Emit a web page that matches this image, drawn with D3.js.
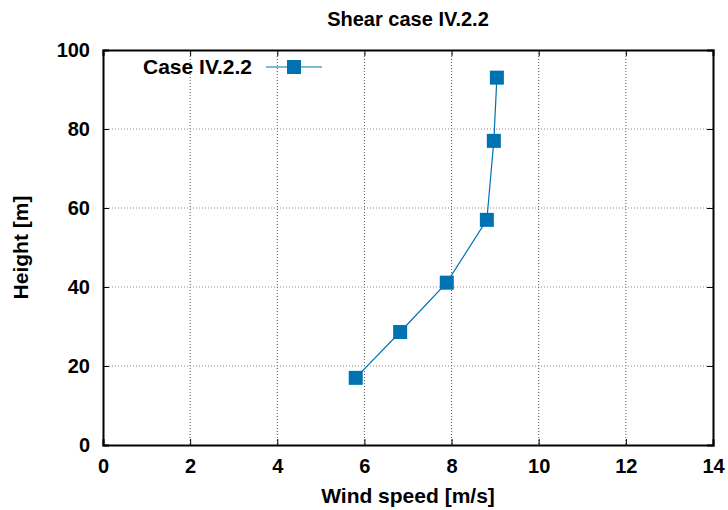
<!DOCTYPE html>
<html>
<head>
<meta charset="utf-8">
<script src="https://cdn.jsdelivr.net/npm/d3@7"></script>
<style>
  body { margin: 0; background: #fff; }
  text { font-family: "Liberation Sans", Arial, sans-serif; font-weight: bold; }
</style>
</head>
<body>
<div id="chart"></div>
<script>
// wind speed profile
const windSpeed = [5.8, 6.82, 7.89, 8.81, 8.97, 9.04];
const heights = [17.0, 28.6, 41.1, 57.0, 77.0, 93.0];
const seriesName = "Case IV.2.2";
const xTicks = [0, 2, 4, 6, 8, 10, 12, 14];
const yTicks = [0, 20, 40, 60, 80, 100];

const margin = { top: 50, right: 15, bottom: 65, left: 103 },
    width = 728 - margin.left - margin.right,
    height = 510 - margin.top - margin.bottom;

const color = "#0072b2";

const svg = d3.select("#chart")
    .append("svg")
    .attr("width", 728)
    .attr("height", 510);

const g = svg.append("g")
    .attr("transform", `translate(${margin.left},${margin.top})`);

const x = d3.scaleLinear().domain([0, 14]).range([0, width]);
const y = d3.scaleLinear().domain([0, 100]).range([height, 0]);

// grid
g.selectAll(".gx")
    .data(xTicks.slice(1, -1))
    .join("line")
    .attr("x1", d => x(d)).attr("x2", d => x(d))
    .attr("y1", 0).attr("y2", height)
    .attr("stroke", "#555")
    .attr("stroke-width", 1)
    .attr("stroke-dasharray", "1,2");
g.selectAll(".gy")
    .data(yTicks.slice(1, -1))
    .join("line")
    .attr("x1", 0).attr("x2", width)
    .attr("y1", d => y(d)).attr("y2", d => y(d))
    .attr("stroke", "#888")
    .attr("stroke-width", 1)
    .attr("stroke-dasharray", "1,2");

// axes (ticks pointing inward, mirrored)
const xAxis = g.append("g")
    .attr("transform", `translate(0,${height})`)
    .call(d3.axisBottom(x).tickValues(xTicks).tickSize(-6).tickPadding(14));
const xTop = g.append("g")
    .call(d3.axisTop(x).tickValues(xTicks).tickSize(-6).tickFormat(""));
const yAxis = g.append("g")
    .call(d3.axisLeft(y).tickValues(yTicks).tickSize(-6).tickPadding(13));
const yRight = g.append("g")
    .attr("transform", `translate(${width},0)`)
    .call(d3.axisRight(y).tickValues(yTicks).tickSize(-6).tickFormat(""));

[xAxis, xTop, yAxis, yRight].forEach(a => {
    a.select(".domain").attr("stroke", "#000").attr("stroke-width", 2);
    a.selectAll(".tick line").attr("stroke", "#000").attr("stroke-width", 1);
    a.selectAll("text")
        .attr("fill", "#000")
        .style("font-size", "20px")
        .style("font-family", "'Liberation Sans', Arial, sans-serif")
        .style("font-weight", "bold");
});

// line + markers
const pts = windSpeed.map((w, i) => ({ w: w, h: heights[i] }));
g.append("path")
    .datum(pts)
    .attr("fill", "none")
    .attr("stroke", color)
    .attr("stroke-width", 1.2)
    .attr("d", d3.line().x(d => x(d.w)).y(d => y(d.h)));

const ms = 14;
g.selectAll(".pt")
    .data(pts)
    .join("rect")
    .attr("x", d => x(d.w) - ms / 2)
    .attr("y", d => y(d.h) - ms / 2)
    .attr("width", ms)
    .attr("height", ms)
    .attr("fill", color);

// legend
const legend = svg.append("g");
legend.append("text")
    .attr("x", 252).attr("y", 74)
    .attr("text-anchor", "end")
    .style("font-size", "21px")
    .text(seriesName);
legend.append("line")
    .attr("x1", 266).attr("x2", 322)
    .attr("y1", 67).attr("y2", 67)
    .attr("stroke", color).attr("stroke-width", 1.2);
legend.append("rect")
    .attr("x", 294 - ms / 2).attr("y", 67 - ms / 2)
    .attr("width", ms).attr("height", ms)
    .attr("fill", color);

// titles
svg.append("text")
    .attr("x", margin.left + width / 2).attr("y", 26)
    .attr("text-anchor", "middle")
    .style("font-size", "20px")
    .text("Shear case IV.2.2");
svg.append("text")
    .attr("x", margin.left + width / 2).attr("y", 503)
    .attr("text-anchor", "middle")
    .style("font-size", "21px")
    .text("Wind speed [m/s]");
svg.append("text")
    .attr("transform", `translate(28,${margin.top + height / 2}) rotate(-90)`)
    .attr("text-anchor", "middle")
    .style("font-size", "21px")
    .text("Height [m]");
</script>
</body>
</html>
